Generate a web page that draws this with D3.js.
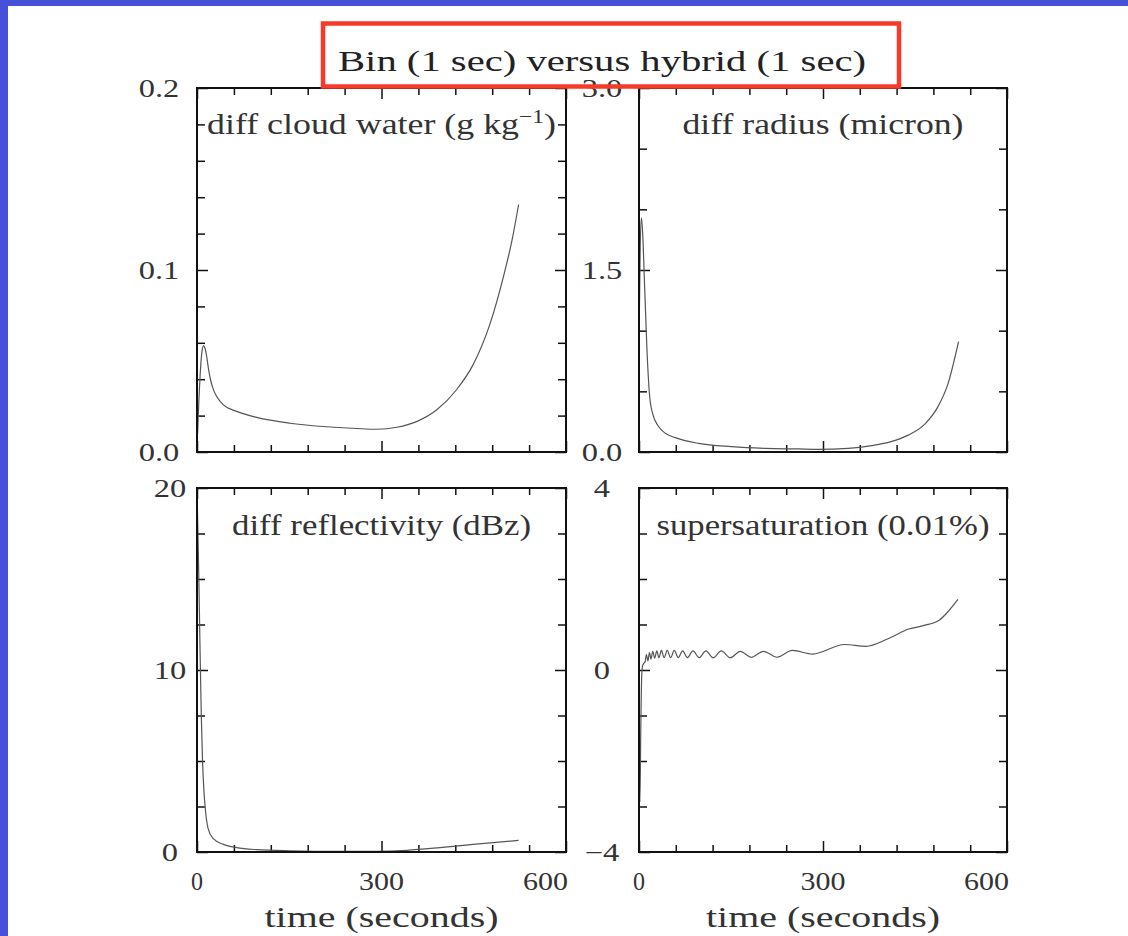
<!DOCTYPE html>
<html>
<head>
<meta charset="utf-8">
<script src="https://cdn.jsdelivr.net/npm/d3@7"></script>
<style>
  body { margin: 0; background: #fff; }
  svg { display: block; }
</style>
</head>
<body>
<div id="wrapper"></div>
<script>
// --- data ---
const titleText = "Bin (1 sec) versus hybrid (1 sec)";
const xLabelText = "time (seconds)";
const timeMajor = [0, 300, 600];

// diff cloud water (g/kg)
const cwTime  = [1, 3, 5, 8, 10.8, 13, 15.7, 19, 22, 27, 32, 43, 64.5, 97, 151, 205, 260, 292, 325, 357, 390, 422, 449, 476, 498, 512, 523];
const cwValue = [0.010, 0.028, 0.0416, 0.055, 0.0585, 0.057, 0.0526, 0.045, 0.0397, 0.034, 0.0305, 0.0259, 0.0223, 0.019, 0.0158, 0.014, 0.0129, 0.0125, 0.0136, 0.0167, 0.0232, 0.0342, 0.048, 0.070, 0.096, 0.116, 0.136];
const cwTicks = [0, 0.1, 0.2];

// diff radius (micron)
const radTime  = [0, 2, 4, 6, 9, 13, 17, 22, 32, 43, 59, 97, 151, 205, 260, 292, 341, 379, 411, 438, 466, 487, 504, 521];
const radValue = [0.9, 1.7, 1.93, 1.8, 1.39, 0.84, 0.48, 0.32, 0.21, 0.154, 0.118, 0.071, 0.044, 0.03, 0.025, 0.022, 0.03, 0.052, 0.085, 0.137, 0.23, 0.37, 0.566, 0.91];
const radTicks = [0, 1.5, 3.0];

// diff reflectivity (dBz)
const refTime  = [0.5, 3, 5, 7, 9, 11, 14, 18, 26, 43, 64.5, 97, 151, 232, 292, 341, 395, 449, 523];
const refValue = [19.2, 15, 11, 7.5, 5, 3.5, 2.2, 1.3, 0.75, 0.42, 0.24, 0.13, 0.07, 0.04, 0.04, 0.09, 0.24, 0.42, 0.64];
const refTicks = [0, 10, 20];

// supersaturation (0.01%)
const ssTime  = [0, 1.5, 3, 4.5, 6, 8, 10, 12, 14.5, 17, 19.5, 22.5, 25.5, 29, 32.5, 36.5, 41, 46, 51.5, 57.5, 64, 71, 79, 88, 98, 109, 121, 134, 149, 165, 183, 203, 225, 250, 283, 335, 370, 405, 440, 465, 490, 505, 520];
const ssValue = [-1.0, -2.9, -1.2, -0.1, 0.1, 0.15, 0.18, 0.34, 0.2, 0.38, 0.24, 0.41, 0.26, 0.42, 0.27, 0.43, 0.27, 0.43, 0.27, 0.43, 0.27, 0.42, 0.27, 0.42, 0.27, 0.42, 0.27, 0.42, 0.27, 0.41, 0.28, 0.41, 0.28, 0.43, 0.35, 0.56, 0.52, 0.68, 0.9, 0.98, 1.1, 1.3, 1.55];
const ssTicks = [-4, 0, 4];

const width = 1128, height = 936;
const font = "'Liberation Serif', 'DejaVu Serif', serif";
const textColor = "#333";

const svg = d3.select("#wrapper").append("svg")
    .attr("width", width)
    .attr("height", height);

svg.append("rect").attr("width", width).attr("height", height).attr("fill", "#fff");
// slide frame
svg.append("rect").attr("x", 0).attr("y", 0).attr("width", width).attr("height", 6).attr("fill", "#4750d8");
svg.append("rect").attr("x", 0).attr("y", 0).attr("width", 8).attr("height", height).attr("fill", "#4750d8");

const panels = [
    { label: "cw", t: cwTime, v: cwValue, domain: [0, 0.2], step: 0.02, ticks: cwTicks, fmt: d3.format(".1f"),
      left: 197, right: 566, top: 88, bottom: 452, labelCx: 159, textW: 349, textY: 134, showX: false },
    { label: "diff radius (micron)", t: radTime, v: radValue, domain: [0, 3], step: 0.5, ticks: radTicks, fmt: d3.format(".1f"),
      left: 639, right: 1007, top: 88, bottom: 452, labelCx: 602, textW: 281, textY: 134, showX: false },
    { label: "diff reflectivity (dBz)", t: refTime, v: refValue, domain: [0, 20], step: 2.5, ticks: refTicks, fmt: d3.format("d"),
      left: 197, right: 566, top: 488, bottom: 852, labelCx: 170, textW: 299, textY: 535, showX: true },
    { label: "supersaturation (0.01%)", t: ssTime, v: ssValue, domain: [-4, 4], step: 1, ticks: ssTicks, fmt: d3.format("d"),
      left: 639, right: 1007, top: 488, bottom: 852, labelCx: 602, textW: 333, textY: 535, showX: true }
];

panels.forEach(p => {
    const x = d3.scaleLinear().domain([0, 600]).range([p.left, p.right]);
    const y = d3.scaleLinear().domain(p.domain).range([p.bottom, p.top]);
    const g = svg.append("g");

    const xMinor = d3.range(0, 601, 60).filter(d => !timeMajor.includes(d));
    const yMinor = d3.range(p.domain[0], p.domain[1] + p.step / 2, p.step)
        .filter(d => !p.ticks.some(t => Math.abs(t - d) < 1e-9));

    const tickAxis = (axis, values, size, tr) => {
        const a = g.append("g")
            .attr("transform", tr)
            .call(axis.tickValues(values).tickSize(size).tickSizeOuter(0).tickFormat(""));
        a.select(".domain").remove();
        a.selectAll("line").attr("stroke", "#111").attr("stroke-width", 1.5);
    };
    // x ticks, bottom and top, pointing inward
    tickAxis(d3.axisBottom(x), xMinor, -7, `translate(0,${p.bottom})`);
    tickAxis(d3.axisBottom(x), timeMajor, -11, `translate(0,${p.bottom})`);
    tickAxis(d3.axisTop(x), xMinor, -7, `translate(0,${p.top})`);
    tickAxis(d3.axisTop(x), timeMajor, -11, `translate(0,${p.top})`);
    // y ticks, left and right
    tickAxis(d3.axisLeft(y), yMinor, -8, `translate(${p.left},0)`);
    tickAxis(d3.axisLeft(y), p.ticks, -11, `translate(${p.left},0)`);
    tickAxis(d3.axisRight(y), yMinor, -8, `translate(${p.right},0)`);
    tickAxis(d3.axisRight(y), p.ticks, -11, `translate(${p.right},0)`);

    // curve
    const line = d3.line()
        .x((d, i) => x(p.t[i]))
        .y(d => y(d))
        .curve(d3.curveMonotoneX);
    g.append("path")
        .datum(p.v)
        .attr("d", line)
        .attr("fill", "none")
        .attr("stroke", "#555")
        .attr("stroke-width", 1.2);

    // frame
    g.append("rect")
        .attr("x", p.left).attr("y", p.top)
        .attr("width", p.right - p.left).attr("height", p.bottom - p.top)
        .attr("fill", "none").attr("stroke", "#111").attr("stroke-width", 2);

    // y labels
    g.selectAll(".ylab")
        .data(p.ticks)
        .enter().append("text")
        .attr("x", p.labelCx)
        .attr("y", d => y(d) + 9)
        .attr("text-anchor", "middle")
        .attr("font-family", font)
        .attr("font-size", 25)
        .attr("fill", textColor)
        .text(d => p.fmt(d))
        .attr("transform", d => `translate(${p.labelCx},0) scale(1.3,1) translate(${-p.labelCx},0)`);

    // panel title
    const lab = g.append("text")
        .attr("x", (p.left + p.right) / 2)
        .attr("y", p.textY)
        .attr("text-anchor", "middle")
        .attr("font-family", font)
        .attr("font-size", 29)
        .attr("fill", textColor)
        .attr("textLength", p.textW)
        .attr("lengthAdjust", "spacingAndGlyphs");
    if (p.label === "cw") {
        lab.append("tspan").text("diff cloud water (g kg");
        lab.append("tspan").attr("dy", -11).attr("font-size", 19).text("\u22121");
        lab.append("tspan").attr("dy", 11).text(")");
    } else {
        lab.text(p.label);
    }

    if (p.showX) {
        g.selectAll(".xlab")
            .data(timeMajor)
            .enter().append("text")
            .attr("x", d => d === 600 ? x(d) + 2 : x(d))
            .attr("y", 890)
            .attr("text-anchor", d => d === 600 ? "end" : "middle")
            .attr("font-family", font)
            .attr("font-size", 25)
            .attr("fill", textColor)
            .attr("textLength", d => d === 0 ? 12 : 45)
            .attr("lengthAdjust", "spacingAndGlyphs")
            .text(d => d);

        g.append("text")
            .attr("x", (p.left + p.right) / 2)
            .attr("y", 927)
            .attr("text-anchor", "middle")
            .attr("font-family", font)
            .attr("font-size", 30)
            .attr("fill", textColor)
            .attr("textLength", 234)
            .attr("lengthAdjust", "spacingAndGlyphs")
            .text(xLabelText);
    }
});

// title and its highlight box
svg.append("text")
    .attr("x", 602)
    .attr("y", 71)
    .attr("text-anchor", "middle")
    .attr("font-family", font)
    .attr("font-size", 30)
    .attr("fill", "#222")
    .attr("textLength", 528)
    .attr("lengthAdjust", "spacingAndGlyphs")
    .text(titleText);

svg.append("rect")
    .attr("x", 323).attr("y", 23.5)
    .attr("width", 576).attr("height", 63)
    .attr("fill", "none")
    .attr("stroke", "#f83a2a")
    .attr("stroke-width", 4.5);
</script>
</body>
</html>
